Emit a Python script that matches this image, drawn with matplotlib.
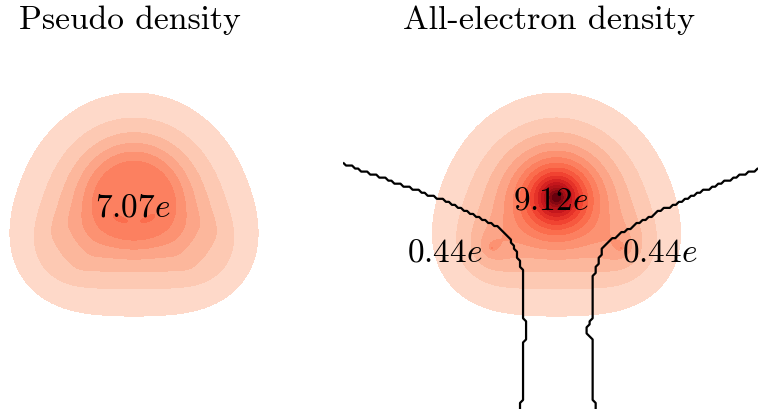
import numpy as np
import matplotlib.pyplot as plt
from matplotlib.path import Path

plt.rcParams['font.family'] = 'serif'
plt.rcParams['font.serif'] = ['cmr10']
plt.rcParams['mathtext.fontset'] = 'cm'
plt.rcParams['axes.formatter.use_mathtext'] = True

# water molecule, Angstrom, O at the origin
atom_x = [0.0, -0.767, 0.767]
atom_y = [0.0, -0.594, -0.594]

# density model per atom (e/A^3-ish units)
valence_amp = [1.74, 0.35, 0.35]
valence_len = [0.429, 0.377, 0.377]
pseudo_rc = [0.44, 0.30, 0.30]     # pseudo density is flat inside rc
core_amp = [0.0, 2000.0, 2000.0]   # sharp all-electron cusp at H
core_len = [0.01, 0.001, 0.001]

levels = np.linspace(0.1, 1.8, 18)
color_min, color_max = -0.115, 1.655

# Bader charges and where the labels sit
pseudo_charge = [7.07]
pseudo_lx = [-0.02]
pseudo_ly = [-0.11]
ae_charge = [9.12, 0.44, 0.44]
ae_lx = [-0.07, -1.33, 1.23]
ae_ly = [-0.03, -0.65, -0.65]

box_x = (-2.54, 2.54)
box_y = (-2.52, 1.92)

# Bader zero-flux surfaces
left_bx = [-2.54, -2.18, -1.77, -1.38, -0.99, -0.70, -0.55, -0.49, -0.43, -0.39,
           -0.39, -0.35, -0.35, -0.39, -0.39, -0.43, -0.43]
left_by = [0.40, 0.27, 0.12, -0.02, -0.20, -0.35, -0.48, -0.62, -0.82, -0.94,
           -1.45, -1.54, -1.65, -1.71, -2.38, -2.44, -2.60]
right_bx = [2.54, 2.40, 1.99, 1.60, 1.20, 0.88, 0.68, 0.56, 0.50, 0.46, 0.42,
            0.42, 0.37, 0.37, 0.42, 0.42, 0.46, 0.46]
right_by = [0.40, 0.34, 0.18, 0.01, -0.18, -0.36, -0.48, -0.58, -0.74, -0.89, -0.98,
            -1.45, -1.54, -1.63, -1.70, -2.38, -2.44, -2.60]

# densities on a fine grid
x = np.linspace(box_x[0], box_x[1], 428)
y = np.linspace(box_y[0], box_y[1], 374)
X, Y = np.meshgrid(x, y)
pseudo = np.zeros_like(X)
ae = np.zeros_like(X)
for i in range(len(atom_x)):
    r = np.hypot(X - atom_x[i], Y - atom_y[i])
    s = (r**8 + pseudo_rc[i]**8) ** 0.125
    pseudo += valence_amp[i] * np.exp(-s / valence_len[i])
    ae += valence_amp[i] * np.exp(-r / valence_len[i])
    ae += core_amp[i] * np.exp(-r / core_len[i])

# atom index volumes on a coarser grid, like the Bader output
h = 0.036
xb = np.arange(box_x[0], box_x[1] + 1e-9, h)
yb = np.arange(box_y[0] - h, box_y[1] + 1e-9, h)
XB, YB = np.meshgrid(xb, yb)
pts = np.column_stack([XB.ravel(), YB.ravel()])
left_poly = Path(list(zip(left_bx, left_by)) + [(left_bx[-1], -4), (-4, -4), (-4, left_by[0])])
right_poly = Path(list(zip(right_bx, right_by)) + [(right_bx[-1], -4), (4, -4), (4, right_by[0])])
atom_index = np.zeros(XB.shape)
atom_index[left_poly.contains_points(pts).reshape(XB.shape)] = -1
atom_index[right_poly.contains_points(pts).reshape(XB.shape)] = 1

W, H = 758, 410
fig = plt.figure(figsize=(W / 100, H / 100), dpi=100)
ax1 = fig.add_axes([-79.5 / W, 0, 427 / W, 373 / H])
ax2 = fig.add_axes([343 / W, 0, 427 / W, 373 / H])

ax1.contourf(x, y, pseudo, levels=levels, cmap='Reds', vmin=color_min, vmax=color_max)
for q, lx, ly in zip(pseudo_charge, pseudo_lx, pseudo_ly):
    ax1.text(lx, ly, '$%.2fe$' % q, ha='center', va='center', fontsize=24)
ax1.set_title('Pseudo density', fontsize=24.2, x=0.4895)

ax2.contourf(x, y, ae, levels=levels, cmap='Reds', vmin=color_min, vmax=color_max)
ax2.contour(xb, yb, atom_index, levels=[-0.5, 0.5], colors='k',
            linewidths=1.6, linestyles='solid')
for q, lx, ly in zip(ae_charge, ae_lx, ae_ly):
    ax2.text(lx, ly, '$%.2fe$' % q, ha='center', va='center', fontsize=24)
ax2.set_title('All-electron density', fontsize=24.6, x=0.4813)

for ax in (ax1, ax2):
    ax.set_xlim(*box_x)
    ax.set_ylim(*box_y)
    ax.axis('off')

fig.savefig('out.png', dpi=100)
